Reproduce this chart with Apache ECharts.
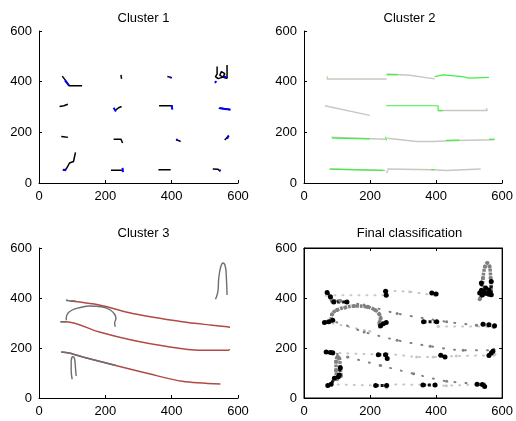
<!DOCTYPE html>
<html>
<head>
    <meta charset="utf-8">
    <title>Clusters</title>
    <script src="https://cdn.jsdelivr.net/npm/echarts@6/dist/echarts.min.js"></script>
    <style>
        html, body { margin: 0; padding: 0; background: #fff; }
        #main { width: 516px; height: 421px; }
    </style>
</head>
<body>
<div id="main"></div>
<script type="text/javascript">
    // axis ticks (shared by all four panels)
    var axisTicks = [0, 200, 400, 600];
    var panelTitles = ["Cluster 1", "Cluster 2", "Cluster 3", "Final classification"];

    // cluster 1: short black tracks, blue points on top
    var c1Black = [
        [[70, 422], [80, 405], [90, 384], [130, 384]],
        [[247, 427], [249, 411]],
        [[387, 420], [400, 416]],
        [[537, 460], [537, 430], [532, 420], [540, 412], [555, 418], [560, 432], [550, 440], [545, 425], [560, 415], [567, 413], [567, 466]],
        [[62, 302], [75, 305], [87, 311]],
        [[232, 289], [240, 297], [249, 302]],
        [[362, 305], [402, 305]],
        [[542, 295], [560, 293], [577, 289]],
        [[67, 184], [80, 182], [87, 181]],
        [[225, 173], [247, 173], [252, 158]],
        [[414, 171], [427, 164]],
        [[560, 170], [567, 180], [572, 187]],
        [[72, 50], [82, 55], [92, 79], [104, 85], [107, 92], [110, 121]],
        [[217, 50], [250, 50]],
        [[360, 52], [397, 52]],
        [[524, 55], [540, 54], [547, 46]]
    ];
    var c1Blue = [
        [[78, 405], [90, 386]],
        [[395, 417], [400, 415]],
        [[530, 395], [535, 402]],
        [[555, 420], [565, 418]],
        [[225, 297], [232, 282]],
        [[400, 307], [402, 290]],
        [[545, 296], [560, 292], [577, 290]],
        [[413, 172], [418, 170]],
        [[567, 175], [572, 187]],
        [[72, 52], [82, 50]],
        [[252, 60], [253, 43]],
        [[545, 52], [547, 48]]
    ];

    // cluster 2: long horizontal tracks, light grey with green parts
    var c2Gray = [
        [[68, 411], [250, 411]],
        [[250, 430], [320, 425], [396, 411]],
        [[63, 305], [199, 267]],
        [[406, 286], [555, 286], [552, 295]],
        [[83, 181], [88, 174], [247, 173]],
        [[252, 177], [341, 164], [391, 164], [461, 168], [575, 171], [578, 175]],
        [[78, 55], [247, 49]],
        [[252, 55], [391, 52], [431, 49], [535, 55]],
        [[250, 40], [255, 50]]
    ];
    var c2Green = [
        [[70, 416], [72, 420]],
        [[250, 427], [285, 428]],
        [[396, 420], [421, 427], [480, 420], [500, 414], [560, 417]],
        [[248, 305], [406, 305], [406, 286], [420, 286]],
        [[85, 177], [88, 174], [200, 174]],
        [[247, 182], [250, 168]],
        [[430, 168], [470, 169]],
        [[560, 172], [575, 173]],
        [[78, 55], [240, 50]],
        [[385, 53], [395, 53]]
    ];

    // cluster 3: loops in grey, long diagonals in red
    var c3Loops = [
        [[85, 387], [83, 394], [88, 389], [110, 388]],
        [[82, 311], [85, 335], [100, 352], [125, 362], [152, 368], [192, 364], [215, 352], [228, 335], [232, 318], [228, 300], [230, 285]],
        [[100, 75], [97, 110], [97, 145], [102, 165], [107, 158], [110, 120], [112, 88]],
        [[532, 395], [537, 412], [540, 432], [542, 480], [548, 525], [555, 540], [562, 525], [565, 480], [567, 412]]
    ];
    var c3Red = [
        [[95, 388], [182, 372], [282, 338], [432, 305], [522, 291], [572, 284], [576, 282]],
        [[65, 305], [82, 305], [182, 264], [282, 231], [382, 207], [482, 191], [572, 191], [575, 195]],
        [[67, 184], [90, 180], [132, 164], [232, 130], [332, 97], [432, 67], [547, 56]]
    ];
    var c3GrayParts = [
        [[65, 305], [82, 305]],
        [[67, 184], [90, 180], [132, 164], [232, 130]]
    ];

    var grids = [
        { left: 39, top: 31, width: 199, height: 152 },
        { left: 304, top: 31, width: 201, height: 152 },
        { left: 39, top: 248, width: 199, height: 150 },
        { left: 304, top: 248, width: 201, height: 150, show: true, borderColor: '#000', borderWidth: 1 }
    ];

    var labelFont = { color: '#000', fontSize: 13, fontFamily: 'Liberation Sans' };

    function makeAxis(gi, pos, showLabel) {
        return {
            type: 'value', gridIndex: gi, position: pos,
            min: 0, max: 600, interval: 200,
            splitLine: { show: false },
            axisLine: { show: true, onZero: false, lineStyle: { color: '#000', width: 1 } },
            axisTick: { show: true, inside: true, length: 3, lineStyle: { color: '#000' } },
            axisLabel: Object.assign({ show: showLabel, margin: 7,
                formatter: function (v) { return axisTicks.indexOf(v) >= 0 ? String(v) : ''; } }, labelFont)
        };
    }

    var xAxes = [], yAxes = [];
    for (var i = 0; i < 4; i++) {
        xAxes.push(makeAxis(i, 'bottom', true));
        yAxes.push(makeAxis(i, 'left', true));
    }
    // box axes on the last panel
    xAxes.push(makeAxis(3, 'top', false));
    yAxes.push(makeAxis(3, 'right', false));

    var series = [];
    function addLines(list, gi, lineStyle, extra) {
        list.forEach(function (pts) {
            series.push(Object.assign({
                type: 'line', xAxisIndex: gi, yAxisIndex: gi, data: pts,
                showSymbol: false, silent: true, animation: false,
                lineStyle: lineStyle
            }, extra || {}));
        });
    }

    // panel 1
    addLines(c1Black, 0, { color: '#000', width: 1.5 });
    addLines(c1Blue, 0, { color: '#0000ff', width: 2 });
    // panel 2
    addLines(c2Gray, 1, { color: '#c8c8c0', width: 1.5 });
    addLines(c2Green, 1, { color: '#44ee44', width: 1.2 });
    // panel 3
    addLines(c3Red, 2, { color: '#b04a44', width: 1.4 }, { smooth: 0.3 });
    addLines(c3GrayParts, 2, { color: '#6e6e6e', width: 1.4 }, { smooth: 0.3 });
    addLines(c3Loops, 2, { color: '#6e6e6e', width: 1.4 }, { smooth: 0.4 });
    // panel 4: all points together
    var dots = { symbol: 'circle', showSymbol: true, symbolSize: 3 };
    addLines(c2Gray, 3, { color: '#c8c8c0', width: 2, type: [1, 7], cap: 'round' },
        Object.assign({ itemStyle: { color: '#c8c8c0' } }, dots));
    addLines(c3Red, 3, { color: '#808080', width: 2, type: [1, 10], cap: 'round' },
        Object.assign({ itemStyle: { color: '#808080' }, smooth: 0.3 }, dots));
    addLines(c3Loops, 3, { color: '#808080', width: 3.5, type: [3, 1] },
        Object.assign({ itemStyle: { color: '#808080' }, smooth: 0.4 }, dots, { symbolSize: 4 }));
    addLines(c1Black, 3, { color: '#111', width: 3, type: [3, 2] },
        Object.assign({ itemStyle: { color: '#000' } }, dots, { symbolSize: 5 }));

    var titles = panelTitles.map(function (t, i) {
        var g = grids[i];
        return {
            text: t, left: g.left + g.width / 2, top: i < 2 ? 7 : 222,
            textAlign: 'center',
            textStyle: { color: '#000', fontSize: 13, fontWeight: 'normal', fontFamily: 'Liberation Sans' }
        };
    });

    var myChart = echarts.init(document.getElementById('main'));
    myChart.setOption({
        animation: false,
        backgroundColor: '#fff',
        title: titles,
        grid: grids,
        xAxis: xAxes,
        yAxis: yAxes,
        series: series
    });
</script>
</body>
</html>
